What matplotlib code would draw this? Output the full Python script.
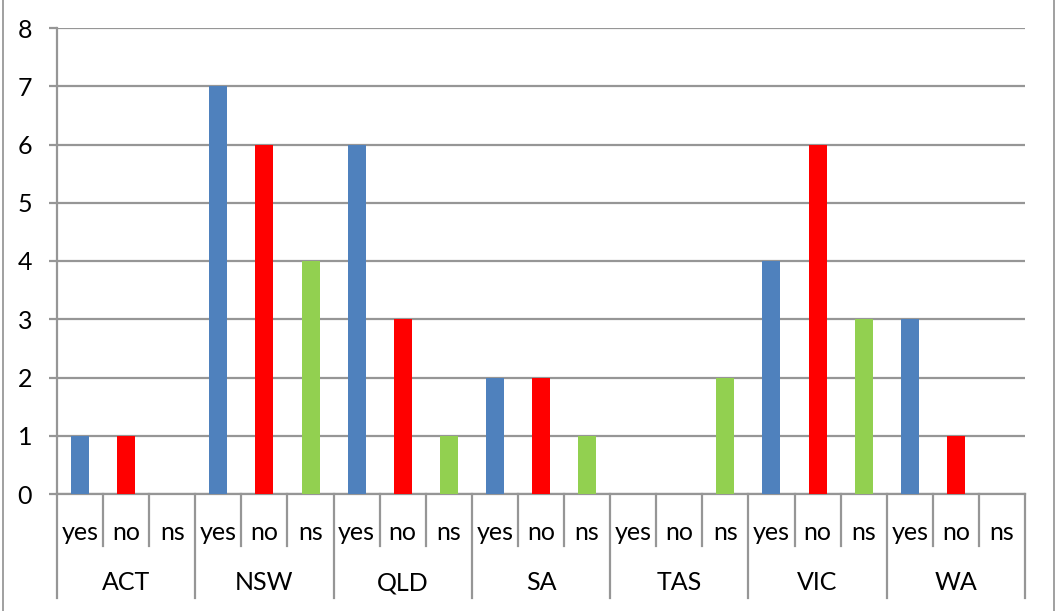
import matplotlib
matplotlib.use("Agg")
import matplotlib.pyplot as plt
from matplotlib.lines import Line2D

states = ["ACT", "NSW", "QLD", "SA", "TAS", "VIC", "WA"]
answers = ["yes", "no", "ns"]
yes_vals = [1, 7, 6, 2, 0, 4, 3]
no_vals = [1, 6, 3, 2, 0, 6, 1]
ns_vals = [0, 4, 1, 1, 2, 3, 0]
colors = {"yes": "#4F81BD", "no": "#FF0000", "ns": "#92D050"}
y_ticks = [0, 1, 2, 3, 4, 5, 6, 7, 8]

plt.rcParams["font.family"] = ["Lato", "DejaVu Sans"]
FS = 18

W, H = 1055, 611
fig = plt.figure(figsize=(W / 100, H / 100), dpi=100)
left, right, top, bottom = 57, 1025, 28, 494
ax = fig.add_axes([left / W, (H - bottom) / H, (right - left) / W, (bottom - top) / H])

series = {"yes": yes_vals, "no": no_vals, "ns": ns_vals}
n = len(states) * len(answers)
for g in range(len(states)):
    for k, a in enumerate(answers):
        i = g * 3 + k
        ax.bar(i + 0.5, series[a][g], width=0.39, color=colors[a], zorder=3)

grid_c = "#969696"
ax.set_xlim(0, n)
ax.set_ylim(0, 8)
ax.set_yticks(y_ticks)
ax.yaxis.grid(True, color=grid_c, linewidth=1.6, zorder=1)
ax.tick_params(axis="y", length=6, width=1.6, color=grid_c, labelsize=FS, pad=12)
ax.set_xticks([])
for s in ["top", "right"]:
    ax.spines[s].set_visible(False)
ax.spines["left"].set_color(grid_c)
ax.spines["left"].set_linewidth(1.6)
ax.spines["bottom"].set_color(grid_c)
ax.spines["bottom"].set_linewidth(1.6)

# multi-level category axis drawn in pixel space below the plot
px_per_slot = (right - left) / n
def fx(px):
    return px / W
def fy(py):
    return (H - py) / H

row1_bottom = 546
row2_bottom = 598
for i in range(n + 1):
    x = left + i * px_per_slot
    yb = row2_bottom if i % 3 == 0 else row1_bottom
    fig.add_artist(Line2D([fx(x), fx(x)], [fy(bottom), fy(yb)], color=grid_c, linewidth=1.6))

for i in range(n):
    x = left + (i + 0.5) * px_per_slot
    fig.text(fx(x), fy(533), answers[i % 3], ha="center", va="center", fontsize=FS)
for g, s in enumerate(states):
    x = left + (g * 3 + 1.5) * px_per_slot
    fig.text(fx(x), fy(583), s, ha="center", va="center", fontsize=FS)

# outer frame sides
fig.add_artist(Line2D([fx(2.5), fx(2.5)], [0, 1], color="#A0A0A0", linewidth=1.4))
fig.add_artist(Line2D([fx(1053.5), fx(1053.5)], [0, 1], color="#A0A0A0", linewidth=1.4))

fig.savefig("out.png", dpi=100)
